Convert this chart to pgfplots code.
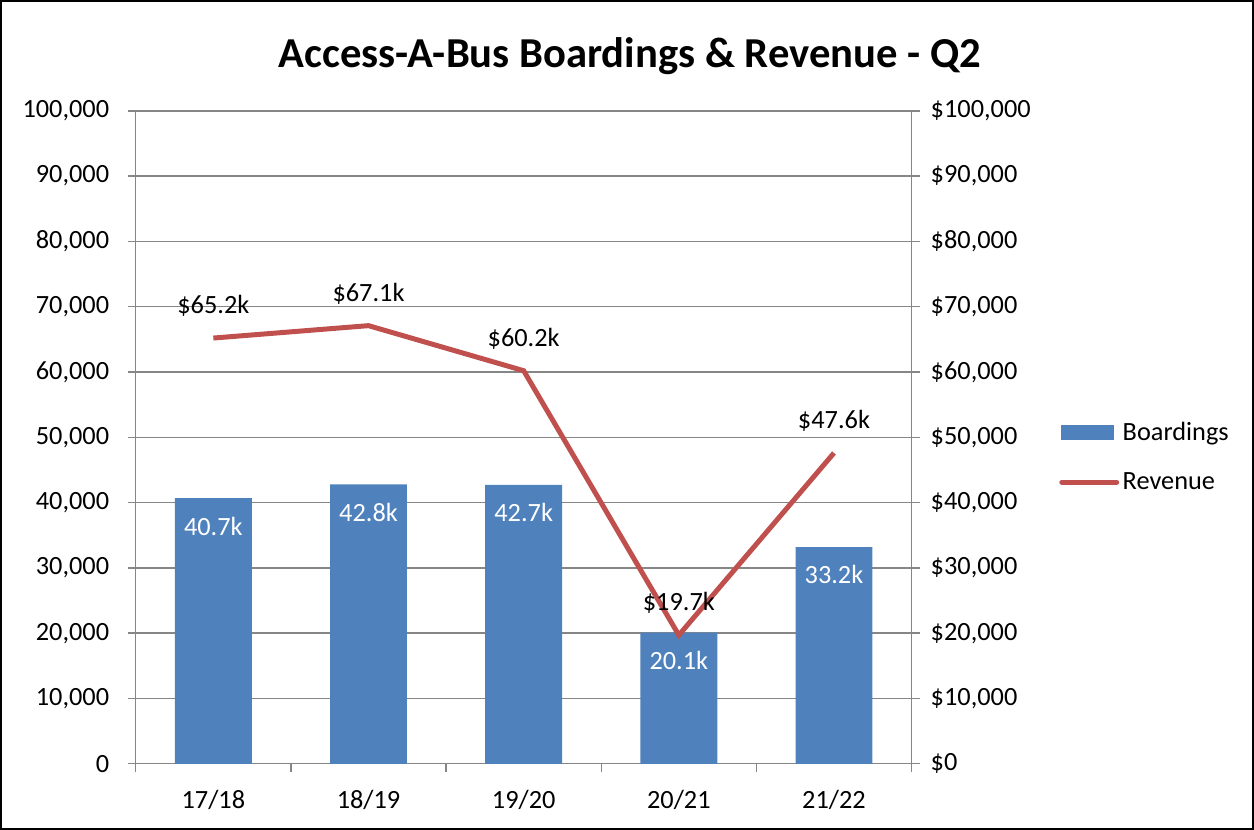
\documentclass[border=0pt]{standalone}
\usepackage{fontspec}
\setmainfont{Carlito}
\usepackage{pgfplots}
\pgfplotsset{compat=1.18}

\definecolor{barblue}{HTML}{4F81BD}
\definecolor{linered}{HTML}{C0504D}
\definecolor{gridgray}{HTML}{868686}

\newcommand{\lbl}{\fontsize{15}{18}\selectfont}

\begin{document}
\begin{tikzpicture}
\draw[black, line width=0.04cm] (0,0) rectangle (25.08,16.58);
\node[font=\fontsize{24.3}{28}\selectfont\bfseries] at (12.6,15.48) {Access-A-Bus Boardings \& Revenue - Q2};

\pgfplotsset{
  common/.style={
    at={(2.7cm,1.3cm)}, anchor=south west,
    scale only axis, width=15.54cm, height=13.08cm,
    xmin=-0.5, xmax=4.5, ymin=0, ymax=100000,
    ytick={0,10000,...,100000},
    scaled y ticks=false,
    tick align=outside,
    major tick length=0.16cm,
    axis line style={gridgray, line width=0.8pt},
    tick style={gridgray, line width=0.8pt},
    tick label style={font=\lbl, black},
    /pgf/number format/.cd, fixed, precision=0, 1000 sep={,}, assume math mode=true,
  },
}

\begin{axis}[
  common,
  axis y line*=left,
  axis x line*=bottom,
  ymajorgrids,
  grid style={gridgray, line width=0.8pt},
  xtick={0,...,4},
  xticklabels={17/18,18/19,19/20,20/21,21/22},
  major x tick style={draw=none},
  minor xtick={-0.5,0.5,...,4.5},
  minor x tick style={gridgray, line width=0.8pt},
  minor tick length=0.16cm,
  xticklabel style={yshift=-0.25cm},
  yticklabel style={xshift=-0.25cm},
  ybar, bar width=1.54cm,
  nodes near coords,
  point meta=explicit symbolic,
  every node near coord/.append style={font=\lbl, white, anchor=center, yshift=-0.56cm},
]
\addplot[fill=barblue, draw=none] coordinates {
  (0,40700) [40.7k]
  (1,42800) [42.8k]
  (2,42700) [42.7k]
  (3,20100) [20.1k]
  (4,33200) [33.2k]
};
\end{axis}

\begin{axis}[
  common,
  axis y line*=right,
  axis x line=none,
  yticklabel={\$\pgfmathprintnumber{\tick}},
  yticklabel style={xshift=0.1cm},
  nodes near coords,
  point meta=explicit symbolic,
  every node near coord/.append style={font=\lbl, black, anchor=center, yshift=0.64cm},
  legend style={at={(rel axis cs:1.19,0.47)}, anchor=west, draw=none, fill=none,
    font=\lbl, row sep=0.45cm, inner sep=0pt},
  legend cell align=left,
]
\addlegendimage{legend image code/.code={\fill[barblue] (0cm,-0.14cm) rectangle (1.04cm,0.14cm);}}
\addlegendentry{Boardings}
\addplot[linered, line width=0.1cm, mark=none,
  legend image code/.code={\draw[linered, line width=0.1cm, line cap=round] (0cm,0cm) -- (1.1cm,0cm);}]
  coordinates {
  (0,65200) [\$65.2k]
  (1,67100) [\$67.1k]
  (2,60200) [\$60.2k]
  (3,19700) [\$19.7k]
  (4,47600) [\$47.6k]
};
\addlegendentry{Revenue}
\end{axis}
\end{tikzpicture}
\end{document}
